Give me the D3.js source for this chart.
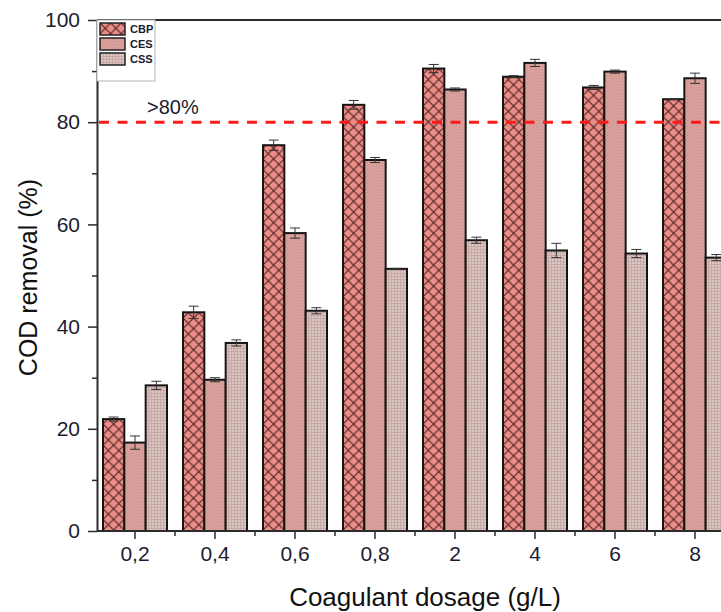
<!DOCTYPE html>
<html>
<head>
<meta charset="utf-8">
<script src="https://cdn.jsdelivr.net/npm/d3@7"></script>
<style>
  body { margin: 0; background: #fff; }
  svg { display: block; font-family: Arial, "Liberation Sans", sans-serif; }
</style>
</head>
<body>
<div id="chart"></div>
<script>
// data
const dosages = ["0,2", "0,4", "0,6", "0,8", "2", "4", "6", "8"];
const series = ["CBP", "CES", "CSS"];
const cbp = [21.9, 42.8, 75.5, 83.4, 90.5, 88.9, 86.8, 84.5];
const ces = [17.3, 29.6, 58.3, 72.6, 86.4, 91.6, 89.9, 88.6];
const css = [28.5, 36.8, 43.1, 51.3, 56.9, 54.9, 54.3, 53.5];
const cbpErr = [0.4, 1.2, 1.0, 0.85, 0.8, 0.2, 0.4, 0.1];
const cesErr = [1.3, 0.4, 1.0, 0.5, 0.3, 0.7, 0.3, 1.0];
const cssErr = [0.8, 0.6, 0.6, 0.1, 0.6, 1.4, 0.8, 0.6];
const yTicks = [0, 20, 40, 60, 80, 100];
const threshold = 80;

const COLORS = {
    ink: "#1b1b2f",
    axis: "#2b2b2b",
    dash: "#ff1a1a"
};

const W = 721, H = 612;
const margin = { left: 97, top: 20, bottom: 81 };
const plotBottom = H - margin.bottom;

const svg = d3.select("#chart").append("svg")
    .attr("width", W)
    .attr("height", H);

// fills
const defs = svg.append("defs");

const pCBP = defs.append("pattern").attr("id", "p-cbp")
    .attr("patternUnits", "userSpaceOnUse").attr("width", 10.6).attr("height", 10.6);
pCBP.append("rect").attr("width", 10.6).attr("height", 10.6).attr("fill", "#ec8d87");
pCBP.append("path").attr("d", "M0,0L10.6,10.6M10.6,0L0,10.6M-1,9.6L1,11.6M9.6,-1L11.6,1")
    .attr("stroke", "#4a2222").attr("stroke-width", 1.1).attr("fill", "none");

const pCES = defs.append("pattern").attr("id", "p-ces")
    .attr("patternUnits", "userSpaceOnUse").attr("width", 3).attr("height", 3);
pCES.append("rect").attr("width", 3).attr("height", 3).attr("fill", "#d99f9a");
pCES.append("rect").attr("width", 1).attr("height", 1).attr("fill", "#cf918c");

const pCSS = defs.append("pattern").attr("id", "p-css")
    .attr("patternUnits", "userSpaceOnUse").attr("width", 3).attr("height", 3);
pCSS.append("rect").attr("width", 3).attr("height", 3).attr("fill", "#dcc6c2");
pCSS.append("path").attr("d", "M0,0.5H3M0.5,0V3")
    .attr("stroke", "#c9a9a5").attr("stroke-width", 1).attr("fill", "none");

const fills = { CBP: "url(#p-cbp)", CES: "url(#p-ces)", CSS: "url(#p-css)" };

// scales
const x = d3.scaleBand()
    .domain(dosages)
    .range([95, 735])
    .paddingInner(0.2)
    .paddingOuter(0.1);

const xs = d3.scaleBand()
    .domain(series)
    .range([0, x.bandwidth()]);

const y = d3.scaleLinear()
    .domain([0, 100])
    .range([plotBottom, margin.top]);

const rows = dosages.map((d, i) => ({
    dosage: d,
    values: [
        { key: "CBP", v: cbp[i], e: cbpErr[i] },
        { key: "CES", v: ces[i], e: cesErr[i] },
        { key: "CSS", v: css[i], e: cssErr[i] }
    ]
}));

// bars
const groups = svg.append("g").selectAll("g")
    .data(rows)
    .join("g")
    .attr("transform", d => `translate(${x(d.dosage)},0)`);

groups.selectAll("rect")
    .data(d => d.values)
    .join("rect")
    .attr("x", d => xs(d.key))
    .attr("y", d => y(d.v))
    .attr("width", xs.bandwidth())
    .attr("height", d => y(0) - y(d.v))
    .attr("fill", d => fills[d.key])
    .attr("stroke", "#151515")
    .attr("stroke-width", 2);

// error bars
const eb = groups.selectAll("g.err")
    .data(d => d.values)
    .join("g")
    .attr("class", "err")
    .attr("stroke", "#333")
    .attr("stroke-width", 1);

eb.append("line")
    .attr("x1", d => xs(d.key) + xs.bandwidth() / 2)
    .attr("x2", d => xs(d.key) + xs.bandwidth() / 2)
    .attr("y1", d => y(d.v + d.e))
    .attr("y2", d => y(d.v - d.e));
eb.append("line")
    .attr("x1", d => xs(d.key) + xs.bandwidth() / 2 - 5)
    .attr("x2", d => xs(d.key) + xs.bandwidth() / 2 + 5)
    .attr("y1", d => y(d.v + d.e))
    .attr("y2", d => y(d.v + d.e));
eb.append("line")
    .attr("x1", d => xs(d.key) + xs.bandwidth() / 2 - 5)
    .attr("x2", d => xs(d.key) + xs.bandwidth() / 2 + 5)
    .attr("y1", d => y(d.v - d.e))
    .attr("y2", d => y(d.v - d.e));

// threshold line
svg.append("line")
    .attr("x1", margin.left + 2)
    .attr("x2", W)
    .attr("y1", y(threshold))
    .attr("y2", y(threshold))
    .attr("stroke", COLORS.dash)
    .attr("stroke-width", 3)
    .attr("stroke-dasharray", "10,8.5");

svg.append("text")
    .attr("x", 147)
    .attr("y", y(threshold) - 8)
    .attr("fill", COLORS.ink)
    .style("font-size", "20px")
    .text(">" + threshold + "%");

// top frame
svg.append("line")
    .attr("x1", margin.left).attr("x2", W)
    .attr("y1", margin.top).attr("y2", margin.top)
    .attr("stroke", COLORS.axis).attr("stroke-width", 2);

// y axis
const yAxis = svg.append("g")
    .attr("transform", `translate(${margin.left},0)`)
    .call(d3.axisLeft(y).tickValues(yTicks).tickSize(9).tickPadding(8).tickSizeOuter(0));
svg.append("g")
    .attr("transform", `translate(${margin.left},0)`)
    .call(d3.axisLeft(y).tickValues([10, 30, 50, 70, 90]).tickSize(5).tickFormat("").tickSizeOuter(0))
    .call(g => g.select(".domain").remove())
    .selectAll("line").attr("stroke", COLORS.axis).attr("stroke-width", 1.5);

yAxis.select(".domain").attr("stroke", COLORS.axis).attr("stroke-width", 2);
yAxis.selectAll(".tick line").attr("stroke", COLORS.axis).attr("stroke-width", 1.5);
yAxis.selectAll(".tick text")
    .attr("fill", COLORS.ink)
    .style("font-size", "21px")
    .style("font-family", "Arial, 'Liberation Sans', sans-serif");

// x axis
const xAxis = svg.append("g")
    .attr("transform", `translate(0,${plotBottom})`)
    .call(d3.axisBottom(x).tickSize(8).tickPadding(7).tickSizeOuter(0));
xAxis.select(".domain").attr("stroke", COLORS.axis).attr("stroke-width", 2)
    .attr("d", `M${margin.left},0H${W}`);
xAxis.selectAll(".tick line").attr("stroke", COLORS.axis).attr("stroke-width", 1.5);
xAxis.selectAll(".tick text")
    .attr("fill", COLORS.ink)
    .style("font-size", "21px")
    .style("font-family", "Arial, 'Liberation Sans', sans-serif");

// minor x ticks between groups
svg.append("g")
    .attr("transform", `translate(0,${plotBottom})`)
    .selectAll("line")
    .data(dosages.slice(1))
    .join("line")
    .attr("x1", d => x(d) - x.step() * x.paddingInner() / 2)
    .attr("x2", d => x(d) - x.step() * x.paddingInner() / 2)
    .attr("y1", 0).attr("y2", 5)
    .attr("stroke", COLORS.axis).attr("stroke-width", 1.5);

// axis titles
svg.append("text")
    .attr("x", 425)
    .attr("y", 606)
    .attr("text-anchor", "middle")
    .attr("fill", "#111")
    .style("font-size", "26px")
    .text("Coagulant dosage (g/L)");

svg.append("text")
    .attr("transform", `translate(37,${(margin.top + plotBottom) / 2 + 2}) rotate(-90)`)
    .attr("text-anchor", "middle")
    .attr("fill", "#111")
    .style("font-size", "25px")
    .text("COD removal (%)");

// legend
const legend = svg.append("g").attr("transform", `translate(${margin.left},${margin.top})`);
legend.append("rect")
    .attr("x", 0).attr("y", 0).attr("width", 58).attr("height", 61)
    .attr("fill", "#fff").attr("stroke", "#b5b5b5").attr("stroke-width", 1);

const li = legend.selectAll("g.item")
    .data(series)
    .join("g")
    .attr("class", "item")
    .attr("transform", (d, i) => `translate(3,${3 + i * 15})`);
li.append("rect")
    .attr("width", 25).attr("height", 12)
    .attr("fill", d => fills[d])
    .attr("stroke", "#222").attr("stroke-width", 1.5);
li.append("text")
    .attr("x", 30).attr("y", 10)
    .attr("fill", COLORS.ink)
    .style("font-size", "11px")
    .style("font-weight", "bold")
    .text(d => d);
</script>
</body>
</html>
